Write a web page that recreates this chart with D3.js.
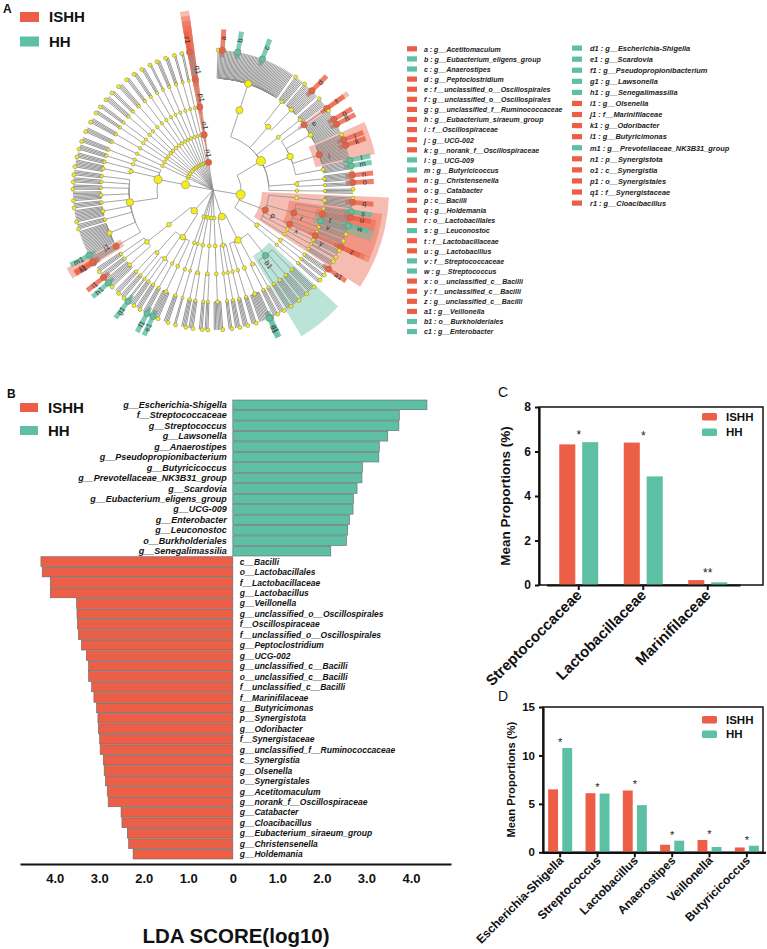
<!DOCTYPE html>
<html>
<head>
<meta charset="utf-8">
<script src="https://cdn.jsdelivr.net/npm/d3@7"></script>
<style>
body { margin: 0; background: #fff; }
text { font-family: "Liberation Sans", Arial, sans-serif; }
</style>
</head>
<body>
<svg id="fig" width="767" height="949"></svg>
<script>

//////////////////
// Data
//////////////////

var RED = "#EC5F46", TEAL = "#5DBFA4";
var groups = ["ISHH", "HH"];

// LEfSe biomarkers, panel B order (top to bottom)
var ldaNames = [
    "g__Escherichia-Shigella", "f__Streptococcaceae", "g__Streptococcus", "g__Lawsonella",
    "g__Anaerostipes", "g__Pseudopropionibacterium", "g__Butyricicoccus",
    "g__Prevotellaceae_NK3B31_group", "g__Scardovia", "g__Eubacterium_eligens_group",
    "g__UCG-009", "g__Enterobacter", "g__Leuconostoc", "o__Burkholderiales", "g__Senegalimassilia",
    "c__Bacilli", "o__Lactobacillales", "f__Lactobacillaceae", "g__Lactobacillus", "g__Veillonella",
    "g__unclassified_o__Oscillospirales", "f__Oscillospiraceae", "f__unclassified_o__Oscillospirales",
    "g__Peptoclostridium", "g__UCG-002", "g__unclassified_c__Bacilli", "o__unclassified_c__Bacilli",
    "f__unclassified_c__Bacilli", "f__Marinifilaceae", "g__Butyricimonas", "p__Synergistota",
    "g__Odoribacter", "f__Synergistaceae", "g__unclassified_f__Ruminococcaceae", "c__Synergistia",
    "g__Olsenella", "o__Synergistales", "g__Acetitomaculum", "g__norank_f__Oscillospiraceae",
    "g__Catabacter", "g__Cloacibacillus", "g__Eubacterium_siraeum_group", "g__Christensenella",
    "g__Holdemania"
];
var ldaScores = [
    4.36, 3.74, 3.73, 3.48, 3.29, 3.28, 2.91, 2.90, 2.79, 2.71, 2.70, 2.62, 2.58, 2.55, 2.20,
    4.31, 4.28, 4.10, 4.10, 3.51, 3.50, 3.49, 3.47, 3.40, 3.29, 3.24, 3.24, 3.17, 3.12, 3.06,
    3.03, 3.02, 2.99, 2.98, 2.91, 2.89, 2.86, 2.82, 2.80, 2.51, 2.49, 2.37, 2.34, 2.24
];
var ldaGroups = [
    "HH", "HH", "HH", "HH", "HH", "HH", "HH", "HH", "HH", "HH", "HH", "HH", "HH", "HH", "HH",
    "ISHH", "ISHH", "ISHH", "ISHH", "ISHH", "ISHH", "ISHH", "ISHH", "ISHH", "ISHH", "ISHH", "ISHH",
    "ISHH", "ISHH", "ISHH", "ISHH", "ISHH", "ISHH", "ISHH", "ISHH", "ISHH", "ISHH", "ISHH", "ISHH",
    "ISHH", "ISHH", "ISHH", "ISHH", "ISHH"
];
var ldaTicks = [-4, -3, -2, -1, 0, 1, 2, 3, 4];

// cladogram letters (panel A legend)
var cladeLetters = ["a","b","c","d","e","f","g","h","i","j","k","l","m","n","o","p","q","r","s","t",
    "u","v","w","x","y","z","a1","b1","c1","d1","e1","f1","g1","h1","i1","j1","k1","l1","m1",
    "n1","o1","p1","q1","r1"];
var cladeNames = [
    "g__Acetitomaculum", "g__Eubacterium_eligens_group", "g__Anaerostipes", "g__Peptoclostridium",
    "f__unclassified_o__Oscillospirales", "g__unclassified_o__Oscillospirales",
    "g__unclassified_f__Ruminococcaceae", "g__Eubacterium_siraeum_group", "f__Oscillospiraceae",
    "g__UCG-002", "g__norank_f__Oscillospiraceae", "g__UCG-009", "g__Butyricicoccus",
    "g__Christensenella", "g__Catabacter", "c__Bacilli", "g__Holdemania", "o__Lactobacillales",
    "g__Leuconostoc", "f__Lactobacillaceae", "g__Lactobacillus", "f__Streptococcaceae",
    "g__Streptococcus", "o__unclassified_c__Bacilli", "f__unclassified_c__Bacilli",
    "g__unclassified_c__Bacilli", "g__Veillonella", "o__Burkholderiales", "g__Enterobacter",
    "g__Escherichia-Shigella", "g__Scardovia", "g__Pseudopropionibacterium", "g__Lawsonella",
    "g__Senegalimassilia", "g__Olsenella", "f__Marinifilaceae", "g__Odoribacter", "g__Butyricimonas",
    "g__Prevotellaceae_NK3B31_group", "p__Synergistota", "c__Synergistia", "o__Synergistales",
    "f__Synergistaceae", "g__Cloacibacillus"
];

// taxonomy: phylum, class, order, family, genera (number = count of unnamed genera)
var cladeRows = [
    ["Firmicutes","Clostridia","Lachnospirales","Lachnospiraceae",[3,"Acetitomaculum",10,"Eubacterium_eligens_group",17,"Anaerostipes",24]],
    ["Firmicutes","Clostridia","Peptostreptococcales-Tissierellales","Anaerovoracaceae",[7]],
    ["Firmicutes","Clostridia","Peptostreptococcales-Tissierellales","Peptostreptococcaceae",[7,"Peptoclostridium",5]],
    ["Firmicutes","Clostridia","Clostridia_UCG-014","Clostridia_UCG-014",[7]],
    ["Firmicutes","Clostridia","Oscillospirales","unclassified_o__Oscillospirales",["unclassified_o__Oscillospirales"]],
    ["Firmicutes","Clostridia","Oscillospirales","Ruminococcaceae",[7,"unclassified_f__Ruminococcaceae",3,"Eubacterium_siraeum_group",6]],
    ["Firmicutes","Clostridia","Oscillospirales","Oscillospiraceae",[4,"UCG-002",3,"norank_f__Oscillospiraceae",9]],
    ["Firmicutes","Clostridia","Oscillospirales","Butyricicoccaceae",["UCG-009",3,"Butyricicoccus",2]],
    ["Firmicutes","Clostridia","Christensenellales","Christensenellaceae",[2,"Christensenella",3]],
    ["Firmicutes","Clostridia","Christensenellales","Catabacteraceae",["Catabacter",2]],
    ["Firmicutes","Clostridia","Clostridiales","Clostridiaceae",[4]],
    ["Firmicutes","Bacilli","Erysipelotrichales","Erysipelotrichaceae",[3,"Holdemania",4]],
    ["Firmicutes","Bacilli","Lactobacillales","Leuconostocaceae",["Leuconostoc",2]],
    ["Firmicutes","Bacilli","Lactobacillales","Lactobacillaceae",["Lactobacillus",4]],
    ["Firmicutes","Bacilli","Lactobacillales","Streptococcaceae",["Streptococcus",4]],
    ["Firmicutes","Bacilli","Lactobacillales","Enterococcaceae",[4]],
    ["Firmicutes","Bacilli","Lactobacillales","Carnobacteriaceae",[3]],
    ["Firmicutes","Bacilli","unclassified_c__Bacilli","unclassified_c__Bacilli",["unclassified_c__Bacilli"]],
    ["Firmicutes","Bacilli","Staphylococcales","Staphylococcaceae",[4]],
    ["Firmicutes","Bacilli","Staphylococcales","Gemellaceae",[2]],
    ["Firmicutes","Bacilli","Bacillales","Bacillaceae",[4]],
    ["Firmicutes","Negativicutes","Veillonellales-Selenomonadales","Veillonellaceae",["Veillonella",3]],
    ["Firmicutes","Negativicutes","Veillonellales-Selenomonadales","Selenomonadaceae",[3]],
    ["Firmicutes","Negativicutes","Acidaminococcales","Acidaminococcaceae",[3]],
    ["Proteobacteria","Gammaproteobacteria","Burkholderiales","Sutterellaceae",[6]],
    ["Proteobacteria","Gammaproteobacteria","Burkholderiales","Oxalobacteraceae",[6]],
    ["Proteobacteria","Gammaproteobacteria","Burkholderiales","Comamonadaceae",[6]],
    ["Proteobacteria","Gammaproteobacteria","Burkholderiales","Burkholderiaceae",[4]],
    ["Proteobacteria","Gammaproteobacteria","Pseudomonadales","Pseudomonadaceae",[4]],
    ["Proteobacteria","Gammaproteobacteria","Pseudomonadales","Moraxellaceae",[4]],
    ["Proteobacteria","Gammaproteobacteria","Enterobacterales","Enterobacteriaceae",["Enterobacter","Escherichia-Shigella",7]],
    ["Proteobacteria","Gammaproteobacteria","Pasteurellales","Pasteurellaceae",[4]],
    ["Proteobacteria","Alphaproteobacteria","Rhizobiales","Rhizobiaceae",[4]],
    ["Proteobacteria","Alphaproteobacteria","Sphingomonadales","Sphingomonadaceae",[4]],
    ["Proteobacteria","Alphaproteobacteria","Rhodospirillales","Acetobacteraceae",[3]],
    ["Desulfobacterota","Desulfovibrionia","Desulfovibrionales","Desulfovibrionaceae",[7]],
    ["Campilobacterota","Campylobacteria","Campylobacterales","Campylobacteraceae",[3]],
    ["Campilobacterota","Campylobacteria","Campylobacterales","Helicobacteraceae",[3]],
    ["Fusobacteriota","Fusobacteriia","Fusobacteriales","Fusobacteriaceae",[4]],
    ["Fusobacteriota","Fusobacteriia","Fusobacteriales","Leptotrichiaceae",[4]],
    ["Verrucomicrobiota","Verrucomicrobiae","Verrucomicrobiales","Akkermansiaceae",[2]],
    ["Patescibacteria","Saccharimonadia","Saccharimonadales","Saccharimonadaceae",[4]],
    ["Actinobacteriota","Actinobacteria","Bifidobacteriales","Bifidobacteriaceae",[4,"Scardovia",2]],
    ["Actinobacteriota","Actinobacteria","Propionibacteriales","Propionibacteriaceae",["Pseudopropionibacterium",3]],
    ["Actinobacteriota","Actinobacteria","Corynebacteriales","Corynebacteriaceae",[4]],
    ["Actinobacteriota","Actinobacteria","Corynebacteriales","Nocardiaceae",[4]],
    ["Actinobacteriota","Actinobacteria","Corynebacteriales","Lawsonellaceae",["Lawsonella",1]],
    ["Actinobacteriota","Actinobacteria","Micrococcales","Micrococcaceae",[4]],
    ["Actinobacteriota","Actinobacteria","Micrococcales","Microbacteriaceae",[4]],
    ["Actinobacteriota","Coriobacteriia","Coriobacteriales","Eggerthellaceae",[4,"Senegalimassilia",3]],
    ["Actinobacteriota","Coriobacteriia","Coriobacteriales","Atopobiaceae",["Olsenella",3]],
    ["Actinobacteriota","Coriobacteriia","Coriobacteriales","Coriobacteriaceae",[4]],
    ["Bacteroidota","Bacteroidia","Bacteroidales","Marinifilaceae",["Odoribacter","Butyricimonas",3]],
    ["Bacteroidota","Bacteroidia","Bacteroidales","Prevotellaceae",["Prevotellaceae_NK3B31_group",18]],
    ["Bacteroidota","Bacteroidia","Bacteroidales","Bacteroidaceae",[4]],
    ["Bacteroidota","Bacteroidia","Bacteroidales","Rikenellaceae",[9]],
    ["Bacteroidota","Bacteroidia","Bacteroidales","Tannerellaceae",[4]],
    ["Bacteroidota","Bacteroidia","Bacteroidales","Muribaculaceae",[7]],
    ["Bacteroidota","Bacteroidia","Bacteroidales","Barnesiellaceae",[4]],
    ["Bacteroidota","Bacteroidia","Bacteroidales","Porphyromonadaceae",[4]],
    ["Bacteroidota","Bacteroidia","Bacteroidales","Dysgonomonadaceae",[4]],
    ["Bacteroidota","Bacteroidia","Flavobacteriales","Flavobacteriaceae",[6]],
    ["Bacteroidota","Bacteroidia","Flavobacteriales","Weeksellaceae",[4]],
    ["Bacteroidota","Bacteroidia","Chitinophagales","Chitinophagaceae",[4]],
    ["Bacteroidota","Bacteroidia","Sphingobacteriales","Sphingobacteriaceae",[4]],
    ["Spirochaetota","Spirochaetia","Spirochaetales","Spirochaetaceae",[4]],
    ["Cyanobacteria","Vampirivibrionia","Gastranaerophilales","Gastranaerophilales",[4]],
    ["Chloroflexi","Anaerolineae","Anaerolineales","Anaerolineaceae",[3]],
    ["Chloroflexi","Chloroflexia","Chloroflexales","Roseiflexaceae",[3]],
    ["Acidobacteriota","Acidobacteriae","Acidobacteriales","Acidobacteriaceae",[4]],
    ["Acidobacteriota","Vicinamibacteria","Vicinamibacterales","Vicinamibacteraceae",[3]],
    ["Planctomycetota","Planctomycetes","Pirellulales","Pirellulaceae",[4]],
    ["Gemmatimonadota","Gemmatimonadetes","Gemmatimonadales","Gemmatimonadaceae",[3]],
    ["Myxococcota","Polyangia","Polyangiales","Polyangiaceae",[3]],
    ["Bdellovibrionota","Bdellovibrionia","Bdellovibrionales","Bdellovibrionaceae",[3]],
    ["Deferribacterota","Deferribacteres","Deferribacterales","Deferribacteraceae",[2]],
    ["Nitrospirota","Nitrospiria","Nitrospirales","Nitrospiraceae",[3]],
    ["Fibrobacterota","Fibrobacteria","Fibrobacterales","Fibrobacteraceae",[3]],
    ["Armatimonadota","Fimbriimonadia","Fimbriimonadales","Fimbriimonadaceae",[2]],
    ["Chlamydiae","Chlamydiae","Chlamydiales","Chlamydiaceae",[2]],
    ["Synergistota","Synergistia","Synergistales","Synergistaceae",["Cloacibacillus",2]]
];

// panel C: family level
var famCats = ["Streptococcaceae", "Lactobacillaceae", "Marinifilaceae"];
var famISHH = [6.32, 6.40, 0.22];
var famHH = [6.42, 4.88, 0.12];
var famSig = ["*", "*", "**"];
var famTicks = [0, 2, 4, 6, 8];

// panel D: genus level
var genCats = ["Escherichia-Shigella", "Streptococcus", "Lactobacillus", "Anaerostipes", "Veillonella", "Butyricicoccus"];
var genISHH = [6.50, 6.10, 6.38, 0.78, 1.27, 0.50];
var genHH = [10.77, 6.07, 4.87, 1.20, 0.55, 0.68];
var genSig = ["*", "*", "*", "*", "*", "*"];
var genTicks = [0, 5, 10, 15];


//////////////////
// Helpers
//////////////////

var svg = d3.select("#fig");
var color = d3.scaleOrdinal().domain(groups).range([RED, TEAL]);
var markerGroup = new Map(ldaNames.map(function (n, i) { return [n, ldaGroups[i]]; }));
var markerLetter = new Map(cladeNames.map(function (n, i) { return [n, cladeLetters[i]]; }));

function panelLetter(t, x, y, weight, size) {
    svg.append("text").attr("x", x).attr("y", y).text(t)
        .attr("font-weight", weight).attr("font-size", size).attr("fill", "#111");
}

function groupLegend(x, y, gap, sw, sh, fs, tx) {
    groups.forEach(function (g, i) {
        svg.append("rect").attr("x", x).attr("y", y + i * gap).attr("width", sw).attr("height", sh)
            .attr("rx", sh > 8 ? 0 : 1.5).attr("fill", color(g));
        svg.append("text").attr("x", tx).attr("y", y + i * gap + sh / 2 + fs * 0.36)
            .text(g).attr("font-weight", "bold").attr("font-size", fs).attr("fill", "#111");
    });
}

function buildTree(rows) {
    var root = { name: "", children: [] };
    var ranks = ["p__", "c__", "o__", "f__"];
    rows.forEach(function (row) {
        var node = root;
        for (var i = 0; i < 4; i++) {
            var nm = ranks[i] + row[i];
            var ch = node.children.find(function (c) { return c.name === nm; });
            if (!ch) { ch = { name: nm, children: [] }; node.children.push(ch); }
            node = ch;
        }
        var k = 0;
        row[4].forEach(function (g) {
            if (typeof g === "number") {
                for (var j = 0; j < g; j++) { node.children.push({ name: "", idx: k++ }); }
            } else {
                node.children.push({ name: "g__" + g, idx: k++ });
            }
        });
    });
    return root;
}


//////////////////
// Panel A
//////////////////

panelLetter("A", 3, 13, "bold", 12);
groupLegend(20, 12, 24.5, 19, 10, 15, 49);

var cx = 213, cy = 190;
var ringR = [0, 28, 56, 84, 112, 140];

function pol(a, r) {
    var t = a * Math.PI / 180;
    return [r * Math.sin(t), -r * Math.cos(t)];
}

var root = d3.hierarchy(buildTree(cladeRows)).count();
d3.cluster().size([352, 1])
    .separation(function (a, b) {
        // wider gaps between higher-rank clades
        var pa = a.ancestors(), pb = b.ancestors();
        if (pa[1] === pb[1]) { return 1; }
        if (pa[2] === pb[2]) { return 2.1; }
        if (pa[3] === pb[3]) { return 2.7; }
        if (pa[4] === pb[4]) { return 3.3; }
        return 4.5;
    })(root);
root.each(function (d) { d.ang = d.x + 0.8; d.rad = ringR[d.depth]; });

var gA = svg.append("g").attr("transform", "translate(" + cx + "," + cy + ")");

// clade shading
var markers = root.descendants().filter(function (d) { return markerGroup.has(d.data.name); });
markers.sort(function (a, b) { return a.depth - b.depth; });
var arc = d3.arc();
gA.selectAll("path.clade").data(markers).join("path")
    .attr("class", "clade")
    .attr("d", function (d) {
        var lv = d.leaves();
        var a0 = d3.min(lv, function (l) { return l.ang; }) - 0.9;
        var a1 = d3.max(lv, function (l) { return l.ang; }) + 0.9;
        var inner = d.depth === 5 ? 133 : d.rad - 7;
        return arc({ innerRadius: inner, outerRadius: 186 - d.depth * 5,
            startAngle: a0 * Math.PI / 180, endAngle: a1 * Math.PI / 180 });
    })
    .attr("fill", function (d) { return color(markerGroup.get(d.data.name)); })
    .attr("fill-opacity", function (d) { return d.depth === 5 ? 0.8 : 0.42; });

// branches
gA.selectAll("path.link").data(root.descendants().slice(1)).join("path")
    .attr("class", "link")
    .attr("fill", "none")
    .attr("stroke", "#8f8f8f")
    .attr("stroke-width", function (d) { return d.children ? 0.8 : 0.95; })
    .attr("d", function (d) {
        var p = d.parent, r0 = p.rad;
        var s = pol(p.ang, r0), m = pol(d.ang, r0), e = pol(d.ang, d.rad);
        var sweep = d.ang > p.ang ? 1 : 0;
        return "M" + s + "A" + r0 + "," + r0 + " 0 0," + sweep + " " + m + "L" + e;
    });

// nodes
var nodes = root.descendants().filter(function (d) {
    return d.depth > 0 && (d.children || markerGroup.has(d.data.name) || d.data.idx === 0);
});
gA.selectAll("circle.node").data(nodes).join("circle")
    .attr("class", "node")
    .attr("cx", function (d) { return pol(d.ang, d.rad)[0]; })
    .attr("cy", function (d) { return pol(d.ang, d.rad)[1]; })
    .attr("r", function (d) {
        var r = d.children ? Math.min(4.6, 1.1 + 0.33 * Math.sqrt(d.value)) : 2.0;
        return markerGroup.has(d.data.name) ? Math.max(r, 3.2) : r;
    })
    .attr("fill", function (d) {
        return markerGroup.has(d.data.name) ? color(markerGroup.get(d.data.name)) : "#F3EC1F";
    })
    .attr("stroke", "#7a7a55")
    .attr("stroke-width", 0.5);

// letters
gA.selectAll("text.mk").data(markers).join("text")
    .attr("class", "mk")
    .attr("transform", function (d) {
        var r = d.depth === 5 ? 152 : d.rad + 9;
        var a = d.depth === 5 ? d.ang : d.ang + 2;
        var p = pol(a, r);
        var rot = a < 180 ? a - 90 : a + 90;
        return "translate(" + p + ") rotate(" + rot + ")";
    })
    .attr("text-anchor", "middle")
    .attr("dy", "0.35em")
    .attr("font-size", 7.5)
    .attr("fill", "#333")
    .text(function (d) { return markerLetter.get(d.data.name); });

// letter legend
var legRows = cladeNames.map(function (n, i) {
    var c = i < 29 ? 0 : 1, k = i < 29 ? i : i - 29;
    return { name: n, letter: cladeLetters[i], col: c,
        y: c === 0 ? 49 + k * 10.1 : 48.3 + k * 11.07 };
});
var gL = svg.append("g");
gL.selectAll("rect").data(legRows).join("rect")
    .attr("x", function (d) { return d.col === 0 ? 407 : 572; })
    .attr("y", function (d) { return d.y - 2.8; })
    .attr("width", 10).attr("height", 5.2)
    .attr("fill", function (d) { return color(markerGroup.get(d.name)); });
gL.selectAll("text").data(legRows).join("text")
    .attr("x", function (d) { return d.col === 0 ? 424 : 590; })
    .attr("y", function (d) { return d.y + 2.6; })
    .attr("font-size", function (d) { return d.col === 0 ? 7 : 7.4; })
    .attr("font-weight", "bold").attr("font-style", "italic").attr("fill", "#222")
    .text(function (d) { return d.letter + " : " + d.name; });


//////////////////
// Panel B
//////////////////

panelLetter("B", 7, 398, "bold", 12);
groupLegend(20, 403, 23, 18, 9, 15, 48);

var xB = d3.scaleLinear().domain([-4.78, 4.9]).range([20, 451]);
var yB = d3.scaleBand().domain(d3.range(ldaNames.length)).range([400, 859]).paddingInner(0.07);
var signed = ldaScores.map(function (v, i) { return ldaGroups[i] === "HH" ? v : -v; });

var gB = svg.append("g");
gB.selectAll("rect").data(signed).join("rect")
    .attr("x", function (v) { return xB(Math.min(0, v)); })
    .attr("y", function (v, i) { return yB(i); })
    .attr("width", function (v) { return Math.abs(xB(v) - xB(0)); })
    .attr("height", yB.bandwidth())
    .attr("fill", function (v, i) { return color(ldaGroups[i]); })
    .attr("stroke", "#666").attr("stroke-width", 0.6);

gB.selectAll("text").data(ldaNames).join("text")
    .attr("x", function (n, i) { return ldaGroups[i] === "HH" ? xB(0) - 6 : xB(0) + 7; })
    .attr("y", function (n, i) { return yB(i) + yB.bandwidth() / 2 + 3.1; })
    .attr("text-anchor", function (n, i) { return ldaGroups[i] === "HH" ? "end" : "start"; })
    .attr("font-size", function (n, i) { return ldaGroups[i] === "HH" ? 9 : 8.5; })
    .attr("font-weight", "bold").attr("font-style", "italic").attr("fill", "#111")
    .text(function (n) { return n; });

var axB = svg.append("g").attr("transform", "translate(0,864)")
    .call(d3.axisBottom(xB).tickValues(ldaTicks).tickSize(0).tickSizeOuter(0).tickPadding(9.5)
        .tickFormat(function (v) { return v === 0 ? "0" : Math.abs(v).toFixed(1); }));
axB.select(".domain").attr("stroke", "#111").attr("stroke-width", 2);
axB.selectAll("text").attr("font-size", 13).attr("font-weight", "bold").attr("fill", "#111")
    .attr("font-family", "Liberation Sans, Arial, sans-serif");

svg.append("text").attr("x", 236).attr("y", 943).attr("text-anchor", "middle")
    .attr("font-size", 20.5).attr("font-weight", "bold").attr("fill", "#111")
    .text("LDA SCORE(log10)");


//////////////////
// Panels C and D
//////////////////

function proportionPanel(opt) {
    var y = d3.scaleLinear().domain([0, opt.max]).range([opt.bottom, opt.top]);
    var x = d3.scaleBand().domain(opt.cats).range(opt.xr);
    var sub = d3.scaleBand().domain(groups).range([-opt.half, opt.half]).paddingInner(0.3);
    var g = svg.append("g");

    // frame
    g.append("rect").attr("x", opt.left).attr("y", opt.top)
        .attr("width", opt.right - opt.left).attr("height", opt.bottom - opt.top)
        .attr("fill", "none").attr("stroke", "#111").attr("stroke-width", 1.5);

    var vals = [opt.ishh, opt.hh];
    groups.forEach(function (gr, gi) {
        g.selectAll("rect.b" + gi).data(opt.cats).join("rect")
            .attr("class", "b" + gi)
            .attr("x", function (c) { return x(c) + x.bandwidth() / 2 + sub(gr); })
            .attr("y", function (c, i) { return y(vals[gi][i]); })
            .attr("width", sub.bandwidth())
            .attr("height", function (c, i) { return opt.bottom - y(vals[gi][i]); })
            .attr("fill", color(gr));
    });

    g.selectAll("text.sig").data(opt.cats).join("text")
        .attr("class", "sig")
        .attr("x", function (c) { return x(c) + x.bandwidth() / 2; })
        .attr("y", function (c, i) { return y(Math.max(opt.ishh[i], opt.hh[i])) + opt.sigDy; })
        .attr("text-anchor", "middle").attr("font-size", opt.sigSize).attr("fill", "#222")
        .text(function (c, i) { return opt.sig[i]; });

    var ay = g.append("g").attr("transform", "translate(" + opt.left + ",0)")
        .call(d3.axisLeft(y).tickValues(opt.ticks).tickSize(4).tickSizeOuter(0).tickPadding(4));
    var ax = g.append("g").attr("transform", "translate(0," + opt.bottom + ")")
        .call(d3.axisBottom(x).tickSize(5).tickSizeOuter(0));
    [ay, ax].forEach(function (a) {
        a.select(".domain").attr("stroke", "#111").attr("stroke-width", 2.2);
        a.selectAll("line").attr("stroke", "#111").attr("stroke-width", 2);
        a.selectAll("text").attr("font-weight", "bold").attr("fill", "#111")
            .attr("font-family", "Liberation Sans, Arial, sans-serif");
    });
    ay.selectAll("text").attr("font-size", opt.tickSize);
    ax.selectAll("text").attr("font-size", opt.catSize)
        .attr("y", 0).attr("dy", 0)
        .attr("transform", "translate(" + opt.catDx + "," + opt.catDy + ") rotate(-45)")
        .style("text-anchor", "end");

    svg.append("text")
        .attr("transform", "translate(" + opt.labelX + "," + (opt.top + opt.bottom) / 2 + ") rotate(-90)")
        .attr("text-anchor", "middle").attr("font-size", opt.labelSize).attr("font-weight", "bold")
        .attr("fill", "#111").text("Mean Proportions (%)");

    groupLegend(702, opt.legY, opt.legGap, 15, 7.5, 11.5, 726);
}

panelLetter("C", 498, 397, "normal", 14);
proportionPanel({
    cats: famCats, ishh: famISHH, hh: famHH, sig: famSig, ticks: famTicks, max: 8,
    left: 539, right: 763, top: 407, bottom: 585, xr: [546.5, 740], half: 19.5,
    sigDy: -3, sigSize: 12, tickSize: 12, catSize: 15, catDx: 4, catDy: 11,
    labelX: 510, labelSize: 13.5, legY: 413, legGap: 15.5
});

panelLetter("D", 498, 701, "normal", 14);
proportionPanel({
    cats: genCats, ishh: genISHH, hh: genHH, sig: genSig, ticks: genTicks, max: 15,
    left: 543, right: 763, top: 707, bottom: 852.3, xr: [541.5, 765.5], half: 12,
    sigDy: -2, sigSize: 11, tickSize: 11.5, catSize: 12, catDx: 4, catDy: 9,
    labelX: 515, labelSize: 11.2, legY: 716, legGap: 14.5
});

</script>
</body>
</html>
